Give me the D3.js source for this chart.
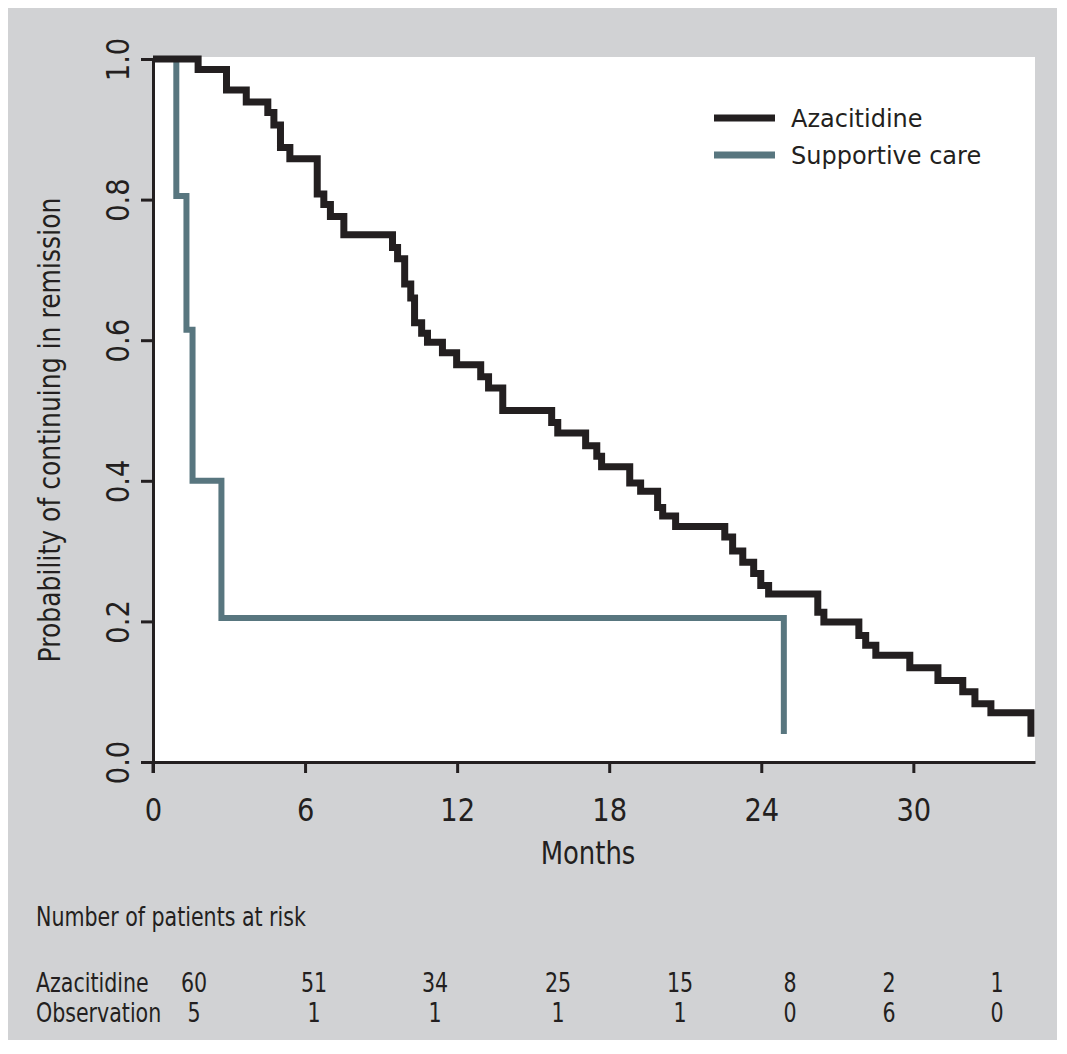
<!DOCTYPE html>
<html>
<head>
<meta charset="utf-8">
<script src="https://cdnjs.cloudflare.com/ajax/libs/d3/7.8.5/d3.min.js"></script>
<style>
  body { margin: 0; background: #fff; }
  svg text { fill: #231f20; }
  .narrow { font-family: "Liberation Sans Narrow", "DejaVu Sans Condensed", "Arial Narrow", sans-serif; }
  .legend { font-family: "DejaVu Sans", sans-serif; }
</style>
</head>
<body>
<div id="chart"></div>
<script>

// kaplan-meier curves (months, probability)
var azaTimes = [0, 1.78, 2.90, 3.68, 4.53, 4.77, 5.03, 5.40, 6.48, 6.74,
  7.00, 7.53, 9.45, 9.65, 9.93, 10.17, 10.32, 10.60, 10.83, 11.42,
  11.98, 12.93, 13.24, 13.80, 15.73, 15.97, 17.07, 17.51, 17.70, 18.81,
  19.24, 19.91, 20.11, 20.62, 22.56, 22.87, 23.27, 23.70, 23.98, 24.29,
  26.23, 26.47, 27.85, 28.12, 28.52, 29.86, 30.97, 31.95, 32.43, 33.06,
  34.64];
var azaSurv = [1.0, 0.985, 0.956, 0.939, 0.924, 0.906, 0.874, 0.858, 0.808, 0.793,
  0.776, 0.750, 0.732, 0.716, 0.680, 0.660, 0.625, 0.610, 0.597, 0.582,
  0.565, 0.548, 0.532, 0.500, 0.483, 0.468, 0.450, 0.435, 0.420, 0.397,
  0.385, 0.362, 0.350, 0.335, 0.320, 0.300, 0.284, 0.268, 0.251, 0.239,
  0.213, 0.199, 0.180, 0.166, 0.152, 0.134, 0.116, 0.100, 0.083, 0.070,
  0.036];

var supTimes = [0, 0.92, 1.32, 1.56, 2.70, 24.89];
var supSurv = [1.0, 0.805, 0.615, 0.40, 0.205, 0.04];

var seriesNames = ["Azacitidine", "Supportive care"];
var xTicks = [0, 6, 12, 18, 24, 30];
var yTicks = [0, 0.2, 0.4, 0.6, 0.8, 1.0];

// number at risk table
var riskTitle = "Number of patients at risk";
var riskGroups = ["Azacitidine", "Observation"];
var riskAza = [60, 51, 34, 25, 15, 8, 2, 1];
var riskObs = [5, 1, 1, 1, 1, 0, 6, 0];

// layout
var width = 1067, height = 1054;
var plot = {left: 153, right: 1035, top: 57, bottom: 762};
var riskColX = [194, 314, 435, 558, 680, 790, 889, 997];
var squeeze = 0.88;   // the original type is narrower than any font we have
var ink = "#231f20";
var slate = "#58767f";

var svg = d3.select("#chart").append("svg")
    .attr("width", width)
    .attr("height", height);

// grey panel and white plotting area
svg.append("rect")
    .attr("x", 8).attr("y", 8)
    .attr("width", 1049).attr("height", 1032)
    .attr("fill", "#d1d2d4");

svg.append("rect")
    .attr("x", plot.left).attr("y", plot.top)
    .attr("width", plot.right - plot.left)
    .attr("height", plot.bottom - plot.top)
    .attr("fill", "#ffffff");

var x = d3.scaleLinear().domain([0, 34.8]).range([plot.left, plot.right]);
var y = d3.scaleLinear().domain([0, 1]).range([plot.bottom, 59]);

var line = d3.line()
    .x(function(d) { return x(d[0]); })
    .y(function(d) { return y(d[1]); })
    .curve(d3.curveStepAfter);

var supData = d3.zip(supTimes, supSurv);
var azaData = d3.zip(azaTimes, azaSurv);

// supportive care first so azacitidine sits on top of it
svg.append("path")
    .datum(supData)
    .attr("d", line)
    .attr("fill", "none")
    .attr("stroke", slate)
    .attr("stroke-width", 6)
    .attr("stroke-linejoin", "miter");

svg.append("path")
    .datum(azaData)
    .attr("d", line)
    .attr("fill", "none")
    .attr("stroke", ink)
    .attr("stroke-width", 7)
    .attr("stroke-linejoin", "miter");

// axes
var xAxis = svg.append("g")
    .attr("class", "narrow")
    .attr("transform", "translate(0," + plot.bottom + ")")
    .call(d3.axisBottom(x).tickValues(xTicks).tickSize(11).tickSizeOuter(0)
        .tickFormat(d3.format("d")));

var yAxis = svg.append("g")
    .attr("class", "narrow")
    .attr("transform", "translate(" + plot.left + ",0)")
    .call(d3.axisLeft(y).tickValues(yTicks).tickSize(12).tickSizeOuter(0)
        .tickFormat(d3.format(".1f")));

[xAxis, yAxis].forEach(function(g) {
    g.select(".domain").attr("stroke", ink).attr("stroke-width", 3);
    g.selectAll(".tick line").attr("stroke", ink).attr("stroke-width", 3);
    g.selectAll(".tick text")
        .attr("fill", ink)
        .style("font-size", "32px")
        .style("font-family", null);
});

xAxis.selectAll(".tick text").attr("y", 0).attr("dy", null)
    .attr("transform", "translate(0,59) scale(0.95,1)");

yAxis.selectAll(".tick text")
    .attr("x", null).attr("dy", null)
    .attr("text-anchor", "middle")
    .attr("transform", "translate(-24,0) rotate(-90) scale(0.95,1)");

// y axis reaches a little below the x axis, like the 0 tick
svg.append("line")
    .attr("x1", plot.left).attr("x2", plot.left)
    .attr("y1", plot.bottom).attr("y2", plot.bottom + 11)
    .attr("stroke", ink).attr("stroke-width", 3);

svg.append("text")
    .attr("class", "narrow")
    .attr("transform", "translate(588,864) scale(0.9,1)")
    .attr("text-anchor", "middle")
    .style("font-size", "32px")
    .text("Months");

svg.append("text")
    .attr("class", "narrow")
    .attr("transform", "translate(60,430) rotate(-90) scale(0.93,1)")
    .attr("text-anchor", "middle")
    .style("font-size", "30px")
    .text("Probability of continuing in remission");

// legend
var legend = svg.append("g").attr("class", "legend");
var legendColors = [ink, slate];
seriesNames.forEach(function(name, i) {
    var ly = 118 + i * 37;
    legend.append("line")
        .attr("x1", 714).attr("x2", 775)
        .attr("y1", ly).attr("y2", ly)
        .attr("stroke", legendColors[i])
        .attr("stroke-width", 7);
    legend.append("text")
        .attr("x", 791).attr("y", ly + 9)
        .style("font-size", "24px")
        .text(name);
});

// number at risk table
var table = svg.append("g").attr("class", "narrow").style("font-size", "26px");

function squeezed(px, py) {
    return "translate(" + px + "," + py + ") scale(" + squeeze + ",1)";
}

table.append("text")
    .attr("transform", squeezed(36, 926))
    .text(riskTitle);

[riskAza, riskObs].forEach(function(row, r) {
    var ry = 992 + r * 30;
    table.append("text")
        .attr("transform", squeezed(36, ry))
        .text(riskGroups[r]);
    table.selectAll(null)
        .data(row)
        .enter().append("text")
        .attr("transform", function(d, i) { return squeezed(riskColX[i], ry); })
        .attr("text-anchor", "middle")
        .text(function(d) { return d; });
});

</script>
</body>
</html>
